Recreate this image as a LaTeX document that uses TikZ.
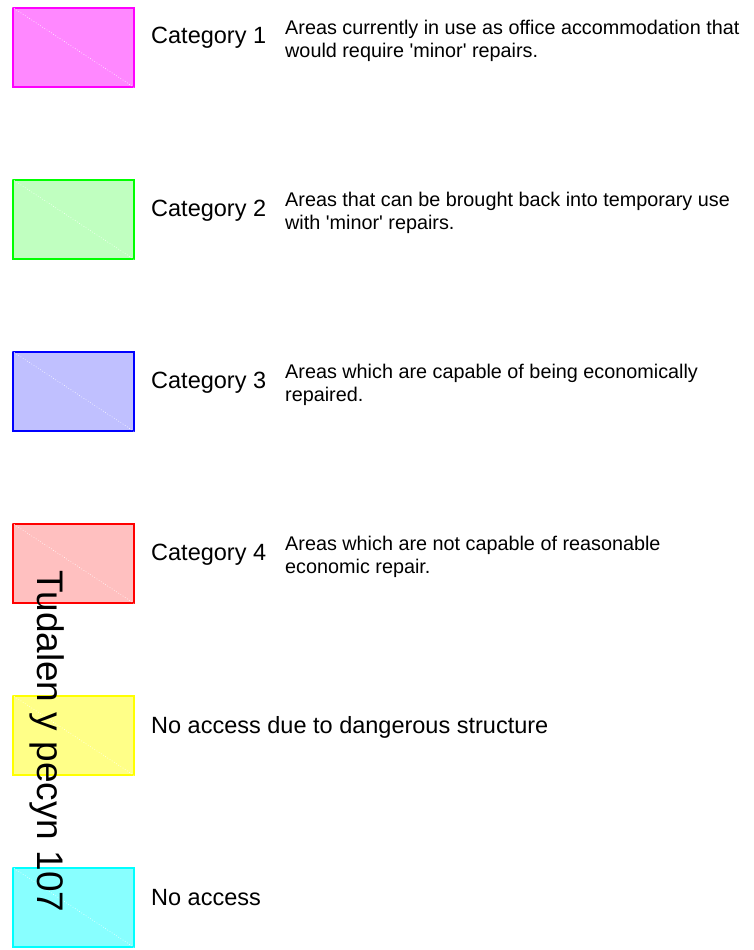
\documentclass[tikz,border=0pt]{standalone}
\usepackage{fontspec}
\setmainfont{Liberation Sans}
\definecolor{f1}{HTML}{FF88FF}\definecolor{d1}{HTML}{FF00FF}
\definecolor{f2}{HTML}{C0FFC0}\definecolor{d2}{HTML}{00FF00}
\definecolor{f3}{HTML}{C0C0FF}\definecolor{d3}{HTML}{0000FF}
\definecolor{f4}{HTML}{FFC0C0}\definecolor{d4}{HTML}{FF0000}
\definecolor{f5}{HTML}{FFFF88}\definecolor{d5}{HTML}{FFFF00}
\definecolor{f6}{HTML}{88FFFF}\definecolor{d6}{HTML}{00FFFF}
\newcommand{\apos}{\textquotesingle}
\begin{document}
\begin{tikzpicture}[x=1pt,y=-1pt,
  legbox/.style={draw, line width=2pt, minimum width=121pt, minimum height=79pt, inner sep=0pt, anchor=north west},
  diag/.style={white, dotted, line width=0.6pt},
  catlabel/.style={anchor=base west, inner sep=0pt, font=\fontsize{23.5}{28}\selectfont},
  desc/.style={anchor=base west, inner sep=0pt, align=left, font=\fontsize{19.8}{23}\selectfont}]
\useasboundingbox (0,0) rectangle (753,950);
\foreach \i in {1,...,6}{
  \pgfmathsetmacro{\top}{6+172*(\i-1)}
  \node[legbox, fill=f\i, draw=d\i] (b\i) at (12,\top+1) {};
  \draw[diag] (b\i.north west) -- (b\i.south east);
}
% desc anchors are at the baseline of the second line
\node[catlabel] (l1) at (151,6+38) {Category 1};
\node[desc] (t1) at (285,6+51) {Areas currently in use as office accommodation that\\would require \apos minor\apos{} repairs.};
\node[catlabel] (l2) at (151,178+38) {Category 2};
\node[desc] (t2) at (285,178+51) {Areas that can be brought back into temporary use\\with \apos minor\apos{} repairs.};
\node[catlabel] (l3) at (151,350+38) {Category 3};
\node[desc] (t3) at (285,350+51) {Areas which are capable of being economically\\repaired.};
\node[catlabel] (l4) at (151,522+38) {Category 4};
\node[desc] (t4) at (285,522+51) {Areas which are not capable of reasonable\\economic repair.};
\node[catlabel] (l5) at (151,694+39) {No access due to dangerous structure};
\node[catlabel] (l6) at (151,866+39) {No access};
\node[rotate=-90, anchor=base west, inner sep=0pt, font=\fontsize{37}{44}\selectfont] (page) at (37,570) {Tudalen y pecyn 107};
\end{tikzpicture}
\end{document}
